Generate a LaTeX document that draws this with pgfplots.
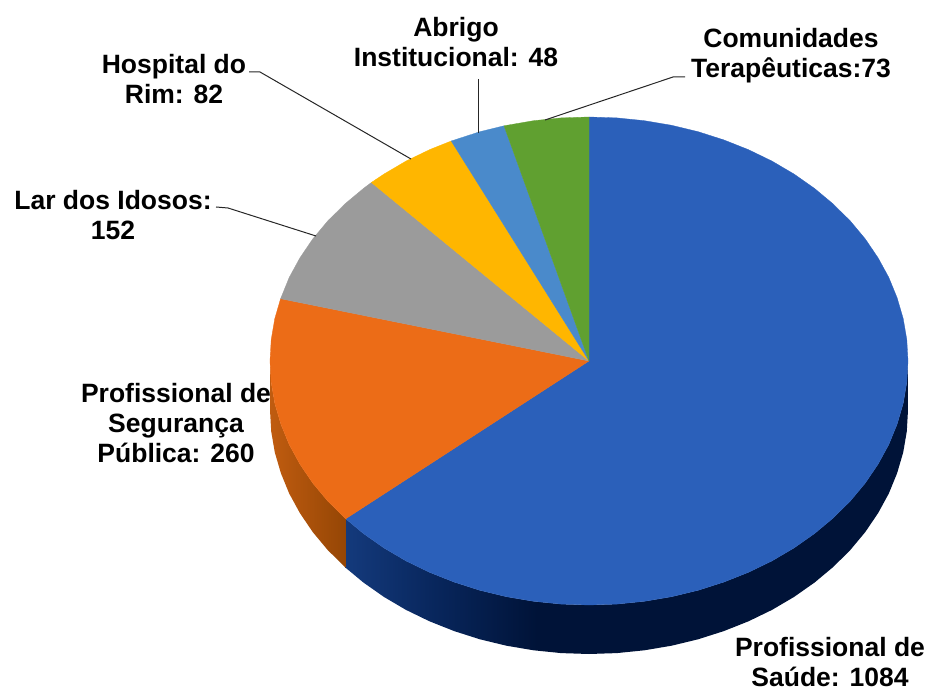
\documentclass[border=0pt]{standalone}
\usepackage{fontspec}
\setmainfont{Liberation Sans}
\usepackage{pgfplots}
\pgfplotsset{compat=1.18}

\definecolor{cblue}{HTML}{2B60BA}
\definecolor{corange}{HTML}{EC6C17}
\definecolor{cgrey}{HTML}{9B9B9B}
\definecolor{cyellow}{HTML}{FFB600}
\definecolor{clight}{HTML}{4A8ACB}
\definecolor{cgreen}{HTML}{60A030}
\definecolor{leader}{HTML}{262626}
\definecolor{bw1}{HTML}{143A7C}
\definecolor{bw2}{HTML}{08265C}
\definecolor{bw3}{HTML}{001338}
\definecolor{ow1}{HTML}{C05C10}
\definecolor{ow2}{HTML}{954605}

% side walls of the pie, the path box is mapped on 25bp..75bp
\pgfdeclarehorizontalshading{bluewall}{100bp}{
  color(0bp)=(bw1);
  color(25bp)=(bw1);
  color(33bp)=(bw2);
  color(42bp)=(bw3);
  color(100bp)=(bw3)}
\pgfdeclarehorizontalshading{orangewall}{100bp}{
  color(0bp)=(ow1);
  color(25bp)=(ow1);
  color(75bp)=(ow2);
  color(100bp)=(ow2)}

\tikzset{lab/.style={align=center, text=black, inner sep=0pt,
  font=\fontsize{26.5}{30}\selectfont\bfseries}}

\begin{document}
\begin{tikzpicture}
\begin{axis}[
    scale only axis,
    width=927pt, height=692pt,
    xmin=0, xmax=927, ymin=0, ymax=692,
    y dir=reverse,
    hide axis,
    clip=false
]
% hide axis leaves no box, this keeps the page at the full size
\path (axis cs:0,0) rectangle (axis cs:927,692);
% values: 1084, 260, 152, 82, 48, 73 (total 1699), points in picture pixels
% walls
\addplot[draw=none, shade, shading=bluewall] coordinates {
  (908,361) (906.8,382.3) (903.2,403.4) (897.1,424.2) (888.8,444.5) (878.1,464.1)
  (865.3,483) (850.3,501) (833.4,517.8) (814.6,533.5) (794.1,547.9) (772,560.9)
  (748.5,572.3) (723.8,582.1) (698.1,590.3) (671.6,596.7) (644.4,601.3) (616.8,604.1)
  (589,605) (561.2,604.1) (533.6,601.3) (506.4,596.7) (479.9,590.3) (454.2,582.1)
  (429.5,572.3) (406,560.9) (383.9,547.9) (363.4,533.5) (345.7,518.8)
  (345.7,567.8) (363.4,582.5) (383.9,596.9) (406,609.9) (429.5,621.3) (454.2,631.1)
  (479.9,639.3) (506.4,645.7) (533.6,650.3) (561.2,653.1) (589,654) (616.8,653.1)
  (644.4,650.3) (671.6,645.7) (698.1,639.3) (723.8,631.1) (748.5,621.3) (772,609.9)
  (794.1,596.9) (814.6,582.5) (833.4,566.8) (850.3,550) (865.3,532) (878.1,513.1)
  (888.8,493.5) (897.1,473.2) (903.2,452.4) (906.8,431.3) (908,410) (908,361)
};
\addplot[draw=none, shade, shading=orangewall] coordinates {
  (345.7,518.8) (327.7,501) (312.7,483) (299.9,464.1) (289.2,444.5) (280.9,424.2)
  (274.8,403.4) (271.2,382.3) (270,361)
  (270,410) (271.2,431.3) (274.8,452.4) (280.9,473.2) (289.2,493.5) (299.9,513.1)
  (312.7,532) (327.7,550) (345.7,567.8) (345.7,518.8)
};
% top face
\addplot[fill=cblue, draw=cblue, line width=0.3pt] coordinates {
  (589,361) (589,117) (616.8,117.9) (644.4,120.7) (671.6,125.3) (698.1,131.7)
  (723.8,139.9) (748.5,149.7) (772,161.1) (794.1,174.1) (814.6,188.5) (833.4,204.2)
  (850.3,221) (865.3,239) (878.1,257.9) (888.8,277.5) (897.1,297.8) (903.2,318.6)
  (906.8,339.7) (908,361) (906.8,382.3) (903.2,403.4) (897.1,424.2) (888.8,444.5)
  (878.1,464.1) (865.3,483) (850.3,501) (833.4,517.8) (814.6,533.5) (794.1,547.9)
  (772,560.9) (748.5,572.3) (723.8,582.1) (698.1,590.3) (671.6,596.7) (644.4,601.3)
  (616.8,604.1) (589,605) (561.2,604.1) (533.6,601.3) (506.4,596.7) (479.9,590.3)
  (454.2,582.1) (429.5,572.3) (406,560.9) (383.9,547.9) (363.4,533.5) (345.7,518.8)
  (589,361)
};
\addplot[fill=corange, draw=corange, line width=0.3pt] coordinates {
  (589,361) (345.7,518.8) (327.7,501) (312.7,483) (299.9,464.1) (289.2,444.5)
  (280.9,424.2) (274.8,403.4) (271.2,382.3) (270,361) (271.2,339.7) (274.8,318.6)
  (280.6,298.7) (589,361)
};
\addplot[fill=cgrey, draw=cgrey, line width=0.3pt] coordinates {
  (589,361) (280.6,298.7) (289.2,277.5) (299.9,257.9) (312.7,239) (327.7,221)
  (344.6,204.2) (363.4,188.5) (371.4,182.5) (589,361)
};
\addplot[fill=cyellow, draw=cyellow, line width=0.3pt] coordinates {
  (589,361) (371.4,182.5) (383.9,174.1) (406,161.1) (429.5,149.7) (451.2,141) (589,361)
};
\addplot[fill=clight, draw=clight, line width=0.3pt] coordinates {
  (589,361) (451.2,141) (479.9,131.7) (504,125.8) (589,361)
};
\addplot[fill=cgreen, draw=cgreen, line width=0.3pt] coordinates {
  (589,361) (504,125.8) (533.6,120.7) (561.2,117.9) (589,117) (589,361)
};
% leader lines
\addplot[leader, line width=1pt] coordinates {(249,72) (260,72) (411,159)};
\addplot[leader, line width=1pt] coordinates {(216,207) (228,208) (316,236)};
\addplot[leader, line width=1pt] coordinates {(478,79) (478,133)};
\addplot[leader, line width=1pt] coordinates {(685,77) (673,77) (545,120)};
% labels
\node[lab] at (axis cs:456,42.5) {Abrigo\\Institucional: 48};
\node[lab] at (axis cs:791,56) {Comunidades\\Terapêuticas:73};
\node[lab] at (axis cs:174,79) {Hospital do\\Rim: 82};
\node[lab] at (axis cs:113,215) {Lar dos Idosos:\\152};
\node[lab] at (axis cs:176,423) {Profissional de\\Segurança\\Pública: 260};
\node[lab] at (axis cs:830,662) {Profissional de\\Saúde: 1084};
\end{axis}
\end{tikzpicture}
\end{document}
